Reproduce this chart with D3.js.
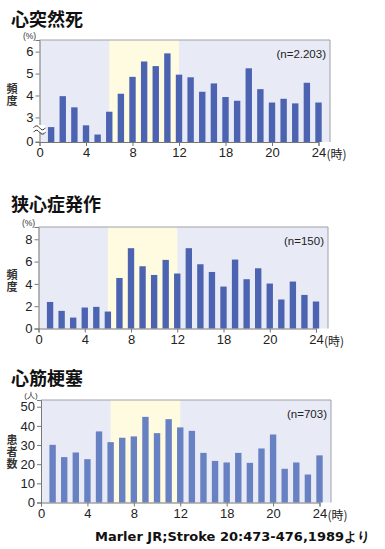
<!DOCTYPE html>
<html>
<head>
<meta charset="utf-8">
<script src="https://cdn.jsdelivr.net/npm/d3@7"></script>
<style>
  body { margin: 0; background: #fff; }
  svg { display: block; }
</style>
</head>
<body>
<svg id="chart" width="385" height="549"></svg>
<script>
// hours 1..24
const hours = d3.range(1, 25);
const hourTicks = [0, 4, 8, 12, 16, 20, 24];
const hourTickLabels = ["0", "4", "8", "12", "18", "20", "24"];   // as printed in the source

const suddenDeath = [2.56, 3.97, 3.46, 2.64, 2.22, 3.26, 4.08, 4.85, 5.55, 5.34, 5.92, 4.95,
                     4.83, 4.17, 4.55, 3.93, 3.76, 5.24, 4.29, 3.68, 3.85, 3.64, 4.58, 3.68];
const angina = [2.38, 1.58, 0.98, 1.88, 1.94, 1.52, 4.53, 7.2, 5.58, 4.8, 6.15, 4.93,
                7.2, 5.76, 5.07, 3.76, 6.18, 4.42, 5.4, 4.03, 2.6, 4.21, 3.01, 2.42];
const infarction = [30.1, 23.7, 26.1, 22.6, 37.1, 31.5, 33.8, 34.5, 44.7, 36.2, 43.5, 39.2,
                    37.4, 25.9, 21.7, 20.9, 25.9, 20.7, 28.2, 35.5, 17.6, 20.9, 14.6, 24.6];

const titles = ["心突然死", "狭心症発作", "心筋梗塞"];
const unitLabels = ["(%)", "(%)", "(人)"];
const yLabels = ["頻度", "頻度", "患者数"];
const nLabels = ["(n=2.203)", "(n=150)", "(n=703)"];
const yTicks1 = [3, 4, 5, 6];
const yTicks2 = [0, 2, 4, 6, 8];
const yTicks3 = [0, 10, 20, 30, 40, 50];
const source = "Marler JR;Stroke 20:473-476,1989より";

const svg = d3.select("#chart");

const panels = [
    {values: suddenDeath, domain: [1.88, 6.53], ticks: yTicks1, broken: true,
     x0: 39.5, x24: 318.5, right: 330, top: 40, bottom: 142, titleY: 26, unitY: 39, unitSize: 8.5, barColor: "#4b63b1"},
    {values: angina, domain: [0, 9.1], ticks: yTicks2, broken: false,
     x0: 38.5, x24: 316, right: 328, top: 227, bottom: 328.5, titleY: 211, unitY: 226, unitSize: 8.5, barColor: "#4b63b1"},
    {values: infarction, domain: [0, 53.5], ticks: yTicks3, broken: false,
     x0: 41, x24: 319.5, right: 331, top: 400, bottom: 502.5, titleY: 385, unitY: 398, unitSize: 8, barColor: "#6781c2"}
];

panels.forEach((p, i) => {
    const g = svg.append("g");
    const x = d3.scaleLinear().domain([0, 24]).range([p.x0, p.x24]);
    const y = d3.scaleLinear().domain(p.domain).range([p.bottom, p.top]);
    const barW = (x(1) - x(0)) * 0.55;

    // background, night vs day band
    g.append("rect")
        .attr("x", p.x0).attr("y", p.top)
        .attr("width", p.right - p.x0).attr("height", p.bottom - p.top)
        .style("fill", "#e8ebf6");
    g.append("rect")
        .attr("x", x(6)).attr("y", p.top)
        .attr("width", x(12) - x(6)).attr("height", p.bottom - p.top)
        .style("fill", "#fefbe1");
    g.append("path")
        .attr("d", `M${p.x0},${p.top}H${p.right}V${p.bottom}`)
        .style("fill", "none").style("stroke", "#a0a0a8").style("stroke-width", 1);

    g.append("g").selectAll("rect")
        .data(p.values)
        .enter()
        .append("rect")
        .attr("x", (d, j) => x(hours[j]) - barW / 2)
        .attr("y", d => y(d))
        .attr("width", barW)
        .attr("height", d => p.bottom - y(d))
        .style("fill", p.barColor);

    // axes
    const xAxis = d3.axisBottom(x).tickValues(hourTicks)
        .tickFormat((d, j) => hourTickLabels[j]).tickSizeOuter(0).tickSize(4).tickPadding(2);
    const gx = g.append("g").attr("transform", `translate(0,${p.bottom})`).call(xAxis);

    const yAxis = d3.axisLeft(y).tickValues(p.ticks).tickFormat(d3.format("d"))
        .tickSizeOuter(0).tickSize(4).tickPadding(2);
    const gy = g.append("g").attr("transform", `translate(${p.x0},0)`).call(yAxis);

    [gx, gy].forEach(a => {
        a.select(".domain").style("stroke", "#777");
        a.selectAll(".tick line").style("stroke", "#777");
        a.selectAll("text").style("font-family", "Liberation Sans, Arial, sans-serif")
            .style("font-size", "13px").style("fill", "#222");
    });

    if (p.broken) {
        // "0" at the baseline and a break mark on the axis
        gy.append("g").attr("transform", `translate(0,${p.bottom})`)
            .call(s => s.append("line").attr("x2", -4).style("stroke", "#777"))
            .append("text").attr("x", -6).attr("dy", "0.32em")
            .attr("text-anchor", "end")
            .style("font-family", "Liberation Sans, Arial, sans-serif")
            .style("font-size", "13px").style("fill", "#222").text("0");
        const by = p.bottom - 13;
        g.append("rect").attr("x", p.x0 - 6).attr("y", by - 4).attr("width", 12).attr("height", 7)
            .style("fill", "#fff");
        [-2.2, 2.2].forEach(off => {
            g.append("path")
                .attr("d", `M${p.x0 - 6},${by + off + 1} q3,-4 6,0 t6,0`)
                .style("fill", "none").style("stroke", "#333").style("stroke-width", 1);
        });
    }

    // (時) after the last tick label
    g.append("text")
        .attr("x", x(24) + 8).attr("y", p.bottom + 17)
        .style("font-family", "Noto Sans CJK JP, sans-serif")
        .style("font-size", "12px").style("fill", "#222").text("(時)");

    // titles and labels
    g.append("text")
        .attr("x", 11).attr("y", p.titleY)
        .style("font-family", "Noto Sans CJK JP, sans-serif")
        .style("font-weight", "bold").style("font-size", "18px").style("fill", "#111")
        .text(titles[i]);

    g.append("text")
        .attr("x", p.x0 - 10).attr("y", p.unitY)
        .attr("text-anchor", "middle")
        .style("font-family", "Liberation Sans, Arial, sans-serif")
        .style("font-size", p.unitSize + "px").style("fill", "#333")
        .text(unitLabels[i]);

    // vertical axis title, one character per line
    const midY = (p.top + p.bottom) / 2 + (i === 2 ? 1 : 4);
    g.append("text")
        .attr("x", 12).attr("y", midY)
        .attr("text-anchor", "middle")
        .style("writing-mode", "vertical-rl")
        .style("text-orientation", "upright")
        .style("letter-spacing", "1px")
        .style("font-family", "Noto Sans CJK JP, sans-serif")
        .style("font-weight", "bold").style("font-size", "11px").style("fill", "#333")
        .text(yLabels[i]);

    g.append("text")
        .attr("x", p.right - 4).attr("y", p.top + 18)
        .attr("text-anchor", "end")
        .style("font-family", "Liberation Sans, Arial, sans-serif")
        .style("font-size", "11.5px").style("fill", "#222")
        .text(nLabels[i]);
});

svg.append("text")
    .attr("x", 95).attr("y", 541)
    .style("font-family", "DejaVu Sans, Verdana, sans-serif")
    .style("font-weight", "bold").style("font-size", "13px").style("fill", "#111")
    .text(source);
</script>
</body>
</html>
